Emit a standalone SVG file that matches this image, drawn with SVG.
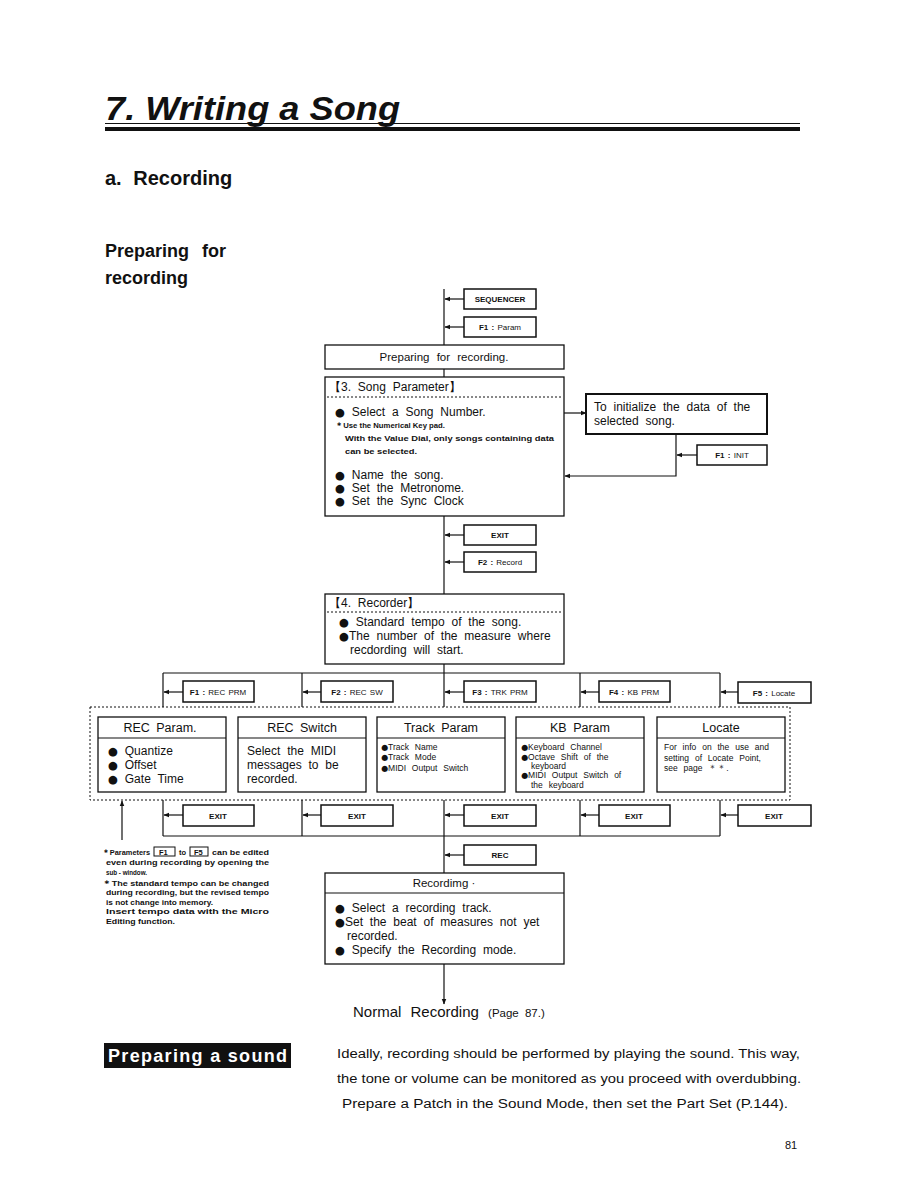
<svg xmlns="http://www.w3.org/2000/svg" width="918" height="1188" viewBox="0 0 918 1188">
<style>
text{font-family:"Liberation Sans","DejaVu Sans",Arial,sans-serif;fill:#111}
.box{fill:#fff;stroke:#111;stroke-width:1.3}
.key{fill:#fff;stroke:#111;stroke-width:1.5}
.ln{stroke:#111;stroke-width:1.2;fill:none}
.dot{stroke:#111;stroke-width:1;stroke-dasharray:2 2;fill:none}
.kt{font-size:8px;font-weight:bold;text-anchor:middle;word-spacing:1px}
.bt{font-size:12px;word-spacing:3.5px}
.ht{font-size:12.5px;text-anchor:middle;word-spacing:3px}
.sm{font-size:8.5px;word-spacing:3.5px}
.nt{font-size:7.5px;font-weight:bold}
.b{font-family:"DejaVu Sans",sans-serif;font-size:0.95em}
</style>
<defs>
<marker id="ah" viewBox="0 0 10 10" refX="9" refY="5" markerWidth="5" markerHeight="5" orient="auto"><path d="M0,1 L10,5 L0,9 z" fill="#111"/></marker>
</defs>

<!-- headings -->
<g id="title">
<text x="105" y="120" font-size="33" font-weight="bold" font-style="italic" textLength="295" lengthAdjust="spacingAndGlyphs">7. Writing a Song</text>
<line x1="105" y1="123.5" x2="800" y2="123.5" stroke="#111" stroke-width="1"/>
<rect x="105" y="127" width="695" height="4" fill="#111"/>
</g>
<text x="105" y="185" font-size="20" font-weight="bold" word-spacing="6">a. Recording</text>
<text x="105" y="257" font-size="18" font-weight="bold" word-spacing="8">Preparing for</text>
<text x="105" y="284" font-size="18" font-weight="bold">recording</text>

<!-- connectors -->
<g id="connectors">
<line class="ln" x1="444" y1="289" x2="444" y2="345"/>
<line class="ln" x1="444" y1="369" x2="444" y2="377"/>
<line class="ln" x1="444" y1="516" x2="444" y2="594"/>
<line class="ln" x1="444" y1="664" x2="444" y2="707"/>
<line class="ln" x1="444" y1="800" x2="444" y2="873"/>
<line class="ln" x1="444" y1="964" x2="444" y2="1004" marker-end="url(#ah)"/>
<line class="ln" x1="464" y1="299" x2="445" y2="299" marker-end="url(#ah)"/>
<line class="ln" x1="464" y1="327" x2="445" y2="327" marker-end="url(#ah)"/>
<line class="ln" x1="464" y1="535" x2="445" y2="535" marker-end="url(#ah)"/>
<line class="ln" x1="464" y1="562" x2="445" y2="562" marker-end="url(#ah)"/>
<line class="ln" x1="464" y1="855" x2="445" y2="855" marker-end="url(#ah)"/>
<line class="ln" x1="564" y1="413" x2="586" y2="413" marker-end="url(#ah)"/>
<polyline class="ln" points="676,434 676,476 565,476" marker-end="url(#ah)"/>
<line class="ln" x1="697" y1="455" x2="677" y2="455" marker-end="url(#ah)"/>
<!-- frame around sub-windows -->
<line class="ln" x1="163" y1="673" x2="720" y2="673"/>
<line class="ln" x1="163" y1="836" x2="720" y2="836"/>
<line class="ln" x1="163" y1="673" x2="163" y2="707"/>
<line class="ln" x1="302" y1="673" x2="302" y2="707"/>
<line class="ln" x1="580" y1="673" x2="580" y2="707"/>
<line class="ln" x1="720" y1="673" x2="720" y2="707"/>
<line class="ln" x1="163" y1="800" x2="163" y2="836"/>
<line class="ln" x1="302" y1="800" x2="302" y2="836"/>
<line class="ln" x1="580" y1="800" x2="580" y2="836"/>
<line class="ln" x1="720" y1="800" x2="720" y2="836"/>
<line class="ln" x1="183" y1="692" x2="164" y2="692" marker-end="url(#ah)"/>
<line class="ln" x1="321" y1="692" x2="303" y2="692" marker-end="url(#ah)"/>
<line class="ln" x1="464" y1="692" x2="445" y2="692" marker-end="url(#ah)"/>
<line class="ln" x1="599" y1="692" x2="581" y2="692" marker-end="url(#ah)"/>
<line class="ln" x1="738" y1="692" x2="721" y2="692" marker-end="url(#ah)"/>
<line class="ln" x1="183" y1="815" x2="164" y2="815" marker-end="url(#ah)"/>
<line class="ln" x1="321" y1="815" x2="303" y2="815" marker-end="url(#ah)"/>
<line class="ln" x1="464" y1="815" x2="445" y2="815" marker-end="url(#ah)"/>
<line class="ln" x1="599" y1="815" x2="581" y2="815" marker-end="url(#ah)"/>
<line class="ln" x1="738" y1="815" x2="721" y2="815" marker-end="url(#ah)"/>
<line class="ln" x1="122" y1="840" x2="122" y2="801" marker-end="url(#ah)"/>
<rect class="dot" x="90" y="707" width="700" height="93"/>
</g>

<!-- key boxes -->
<g id="k-sequencer"><rect class="key" x="464" y="289" width="72" height="20"/><text class="kt" x="500" y="302">SEQUENCER</text></g>
<g id="k-f1param"><rect class="key" x="464" y="317" width="72" height="20"/><text class="kt" x="500" y="330">F1 : <tspan font-weight="normal">Param</tspan></text></g>
<g id="k-exit1"><rect class="key" x="464" y="525" width="72" height="20"/><text class="kt" x="500" y="538">EXIT</text></g>
<g id="k-f2record"><rect class="key" x="464" y="552" width="72" height="20"/><text class="kt" x="500" y="565">F2 : <tspan font-weight="normal">Record</tspan></text></g>
<g id="k-f1init"><rect class="key" x="697" y="445" width="70" height="20"/><text class="kt" x="732" y="458">F1 : <tspan font-weight="normal">INIT</tspan></text></g>
<g id="k-rec"><rect class="key" x="464" y="845" width="72" height="20"/><text class="kt" x="500" y="858">REC</text></g>

<g id="k-f1rec"><rect class="key" x="183" y="681" width="71" height="21"/><text class="kt" x="218" y="694.5">F1 : <tspan font-weight="normal">REC PRM</tspan></text></g>
<g id="k-f2rec"><rect class="key" x="321" y="681" width="72" height="21"/><text class="kt" x="357" y="694.5">F2 : <tspan font-weight="normal">REC SW</tspan></text></g>
<g id="k-f3trk"><rect class="key" x="464" y="681" width="72" height="21"/><text class="kt" x="500" y="694.5">F3 : <tspan font-weight="normal">TRK PRM</tspan></text></g>
<g id="k-f4kb"><rect class="key" x="599" y="681" width="71" height="21"/><text class="kt" x="634" y="694.5">F4 : <tspan font-weight="normal">KB PRM</tspan></text></g>
<g id="k-f5loc"><rect class="key" x="738" y="682" width="73" height="21"/><text class="kt" x="774" y="695.5">F5 : <tspan font-weight="normal">Locate</tspan></text></g>

<g id="k-exit-a"><rect class="key" x="183" y="805" width="71" height="21"/><text class="kt" x="218" y="818.5">EXIT</text></g>
<g id="k-exit-b"><rect class="key" x="321" y="805" width="72" height="21"/><text class="kt" x="357" y="818.5">EXIT</text></g>
<g id="k-exit-c"><rect class="key" x="464" y="805" width="72" height="21"/><text class="kt" x="500" y="818.5">EXIT</text></g>
<g id="k-exit-d"><rect class="key" x="599" y="805" width="71" height="21"/><text class="kt" x="634" y="818.5">EXIT</text></g>
<g id="k-exit-e"><rect class="key" x="738" y="805" width="73" height="21"/><text class="kt" x="774" y="818.5">EXIT</text></g>

<!-- main boxes -->
<g id="n-preparing"><rect class="box" x="325" y="345" width="239" height="24"/><text x="444" y="361" font-size="11.5" text-anchor="middle" word-spacing="4">Preparing for recording.</text></g>

<g id="n-songparam">
<rect class="box" x="325" y="377" width="239" height="139"/>
<text class="bt" x="329" y="391">【3. Song Parameter】</text>
<line class="dot" x1="327" y1="397" x2="562" y2="397"/>
<text class="bt" x="335" y="416"><tspan class="b">●</tspan> Select a Song Number.</text>
<text class="nt" x="335" y="428" textLength="110" lengthAdjust="spacingAndGlyphs">＊Use the Numerical Key pad.</text>
<text class="nt" x="345" y="441" textLength="209" lengthAdjust="spacingAndGlyphs">With the Value Dial, only songs containing data</text>
<text class="nt" x="345" y="454" textLength="72" lengthAdjust="spacingAndGlyphs">can be selected.</text>
<text class="bt" x="335" y="479"><tspan class="b">●</tspan> Name the song.</text>
<text class="bt" x="335" y="492"><tspan class="b">●</tspan> Set the Metronome.</text>
<text class="bt" x="335" y="505"><tspan class="b">●</tspan> Set the Sync Clock</text>
</g>

<g id="n-init">
<rect x="586" y="394" width="181" height="40" fill="#fff" stroke="#111" stroke-width="2"/>
<text class="bt" x="594" y="411">To initialize the data of the</text>
<text class="bt" x="594" y="425">selected song.</text>
</g>

<g id="n-recorder">
<rect class="box" x="325" y="594" width="239" height="70"/>
<text class="bt" x="329" y="607">【4. Recorder】</text>
<line class="dot" x1="327" y1="612" x2="562" y2="612"/>
<text class="bt" x="339" y="626"><tspan class="b">●</tspan> Standard tempo of the song.</text>
<text class="bt" x="339" y="640"><tspan class="b">●</tspan>The number of the measure where</text>
<text class="bt" x="350" y="654">recdording will start.</text>
</g>

<g id="n-recparam">
<rect class="box" x="98" y="717" width="128" height="75"/>
<line class="ln" x1="98" y1="738" x2="226" y2="738"/>
<text class="ht" x="160" y="732">REC Param.</text>
<text class="bt" x="108" y="755"><tspan class="b">●</tspan> Quantize</text>
<text class="bt" x="108" y="769"><tspan class="b">●</tspan> Offset</text>
<text class="bt" x="108" y="783"><tspan class="b">●</tspan> Gate Time</text>
</g>
<g id="n-recswitch">
<rect class="box" x="238" y="717" width="128" height="75"/>
<line class="ln" x1="238" y1="738" x2="366" y2="738"/>
<text class="ht" x="302" y="732">REC Switch</text>
<text class="bt" x="247" y="755">Select the MIDI</text>
<text class="bt" x="247" y="769">messages to be</text>
<text class="bt" x="247" y="783">recorded.</text>
</g>
<g id="n-trackparam">
<rect class="box" x="377" y="717" width="128" height="75"/>
<line class="ln" x1="377" y1="738" x2="505" y2="738"/>
<text class="ht" x="441" y="732">Track Param</text>
<text class="sm" x="381" y="750"><tspan class="b">●</tspan>Track Name</text>
<text class="sm" x="381" y="760"><tspan class="b">●</tspan>Track Mode</text>
<text class="sm" x="381" y="771"><tspan class="b">●</tspan>MIDI Output Switch</text>
</g>
<g id="n-kbparam">
<rect class="box" x="516" y="717" width="128" height="75"/>
<line class="ln" x1="516" y1="738" x2="644" y2="738"/>
<text class="ht" x="580" y="732">KB Param</text>
<text class="sm" x="521" y="750"><tspan class="b">●</tspan>Keyboard Channel</text>
<text class="sm" x="521" y="760"><tspan class="b">●</tspan>Octave Shift of the</text>
<text class="sm" x="531" y="769">keyboard</text>
<text class="sm" x="521" y="778"><tspan class="b">●</tspan>MIDI Output Switch of</text>
<text class="sm" x="531" y="788">the keyboard</text>
</g>
<g id="n-locate">
<rect class="box" x="657" y="717" width="128" height="75"/>
<line class="ln" x1="657" y1="738" x2="785" y2="738"/>
<text class="ht" x="721" y="732">Locate</text>
<text class="sm" x="664" y="750">For info on the use and</text>
<text class="sm" x="664" y="761">setting of Locate Point,</text>
<text class="sm" x="664" y="771">see page ＊＊.</text>
</g>

<g id="n-recording">
<rect class="box" x="325" y="873" width="239" height="91"/>
<line class="ln" x1="325" y1="893" x2="564" y2="893"/>
<text x="444" y="887" font-size="11.5" text-anchor="middle">Recordimg ·</text>
<text class="bt" x="335" y="912"><tspan class="b">●</tspan> Select a recording track.</text>
<text class="bt" x="335" y="926"><tspan class="b">●</tspan>Set the beat of measures not yet</text>
<text class="bt" x="347" y="940">recorded.</text>
<text class="bt" x="335" y="954"><tspan class="b">●</tspan> Specify the Recording mode.</text>
</g>

<g id="n-normal">
<text x="353" y="1017" font-size="15" word-spacing="5">Normal Recording <tspan font-size="11.5" word-spacing="3">(Page 87.)</tspan></text>
</g>

<!-- notes -->
<g id="notes">
<text class="nt" x="102" y="855" textLength="48" lengthAdjust="spacingAndGlyphs">＊Parameters</text>
<rect x="154" y="847" width="21" height="9" fill="none" stroke="#111" stroke-width="1"/>
<text class="nt" x="159" y="855">F1</text>
<text class="nt" x="179" y="855">to</text>
<rect x="190" y="847" width="18" height="9" fill="none" stroke="#111" stroke-width="1"/>
<text class="nt" x="194" y="855">F5</text>
<text class="nt" x="212" y="855" textLength="57" lengthAdjust="spacingAndGlyphs">can be edited</text>
<text class="nt" x="106" y="865" textLength="163" lengthAdjust="spacingAndGlyphs">even during recording by opening the</text>
<text class="nt" x="106" y="875" textLength="41" lengthAdjust="spacingAndGlyphs">sub - window.</text>
<text class="nt" x="102" y="886" textLength="167" lengthAdjust="spacingAndGlyphs">＊The standard tempo can be changed</text>
<text class="nt" x="106" y="895" textLength="163" lengthAdjust="spacingAndGlyphs">during recording, but the revised tempo</text>
<text class="nt" x="106" y="905" textLength="107" lengthAdjust="spacingAndGlyphs">is not change into memory.</text>
<text class="nt" x="106" y="914" textLength="163" lengthAdjust="spacingAndGlyphs">Insert tempo data with the Micro</text>
<text class="nt" x="106" y="924" textLength="69" lengthAdjust="spacingAndGlyphs">Editing function.</text>
</g>

<!-- preparing a sound -->
<g id="sound">
<rect x="104" y="1043" width="187" height="25" fill="#111"/>
<text x="108" y="1062" font-size="18" font-weight="bold" style="fill:#fff" textLength="179" lengthAdjust="spacing">Preparing a sound</text>
<text x="337" y="1058" font-size="12.5" textLength="463" lengthAdjust="spacingAndGlyphs">Ideally, recording should be performed by playing the sound. This way,</text>
<text x="337" y="1083" font-size="12.5" textLength="464" lengthAdjust="spacingAndGlyphs">the tone or volume can be monitored as you proceed with overdubbing.</text>
<text x="342" y="1108" font-size="12.5" textLength="446" lengthAdjust="spacingAndGlyphs">Prepare a Patch in the Sound Mode, then set the Part Set (P.144).</text>
</g>
<text x="785" y="1149" font-size="11">81</text>
</svg>
